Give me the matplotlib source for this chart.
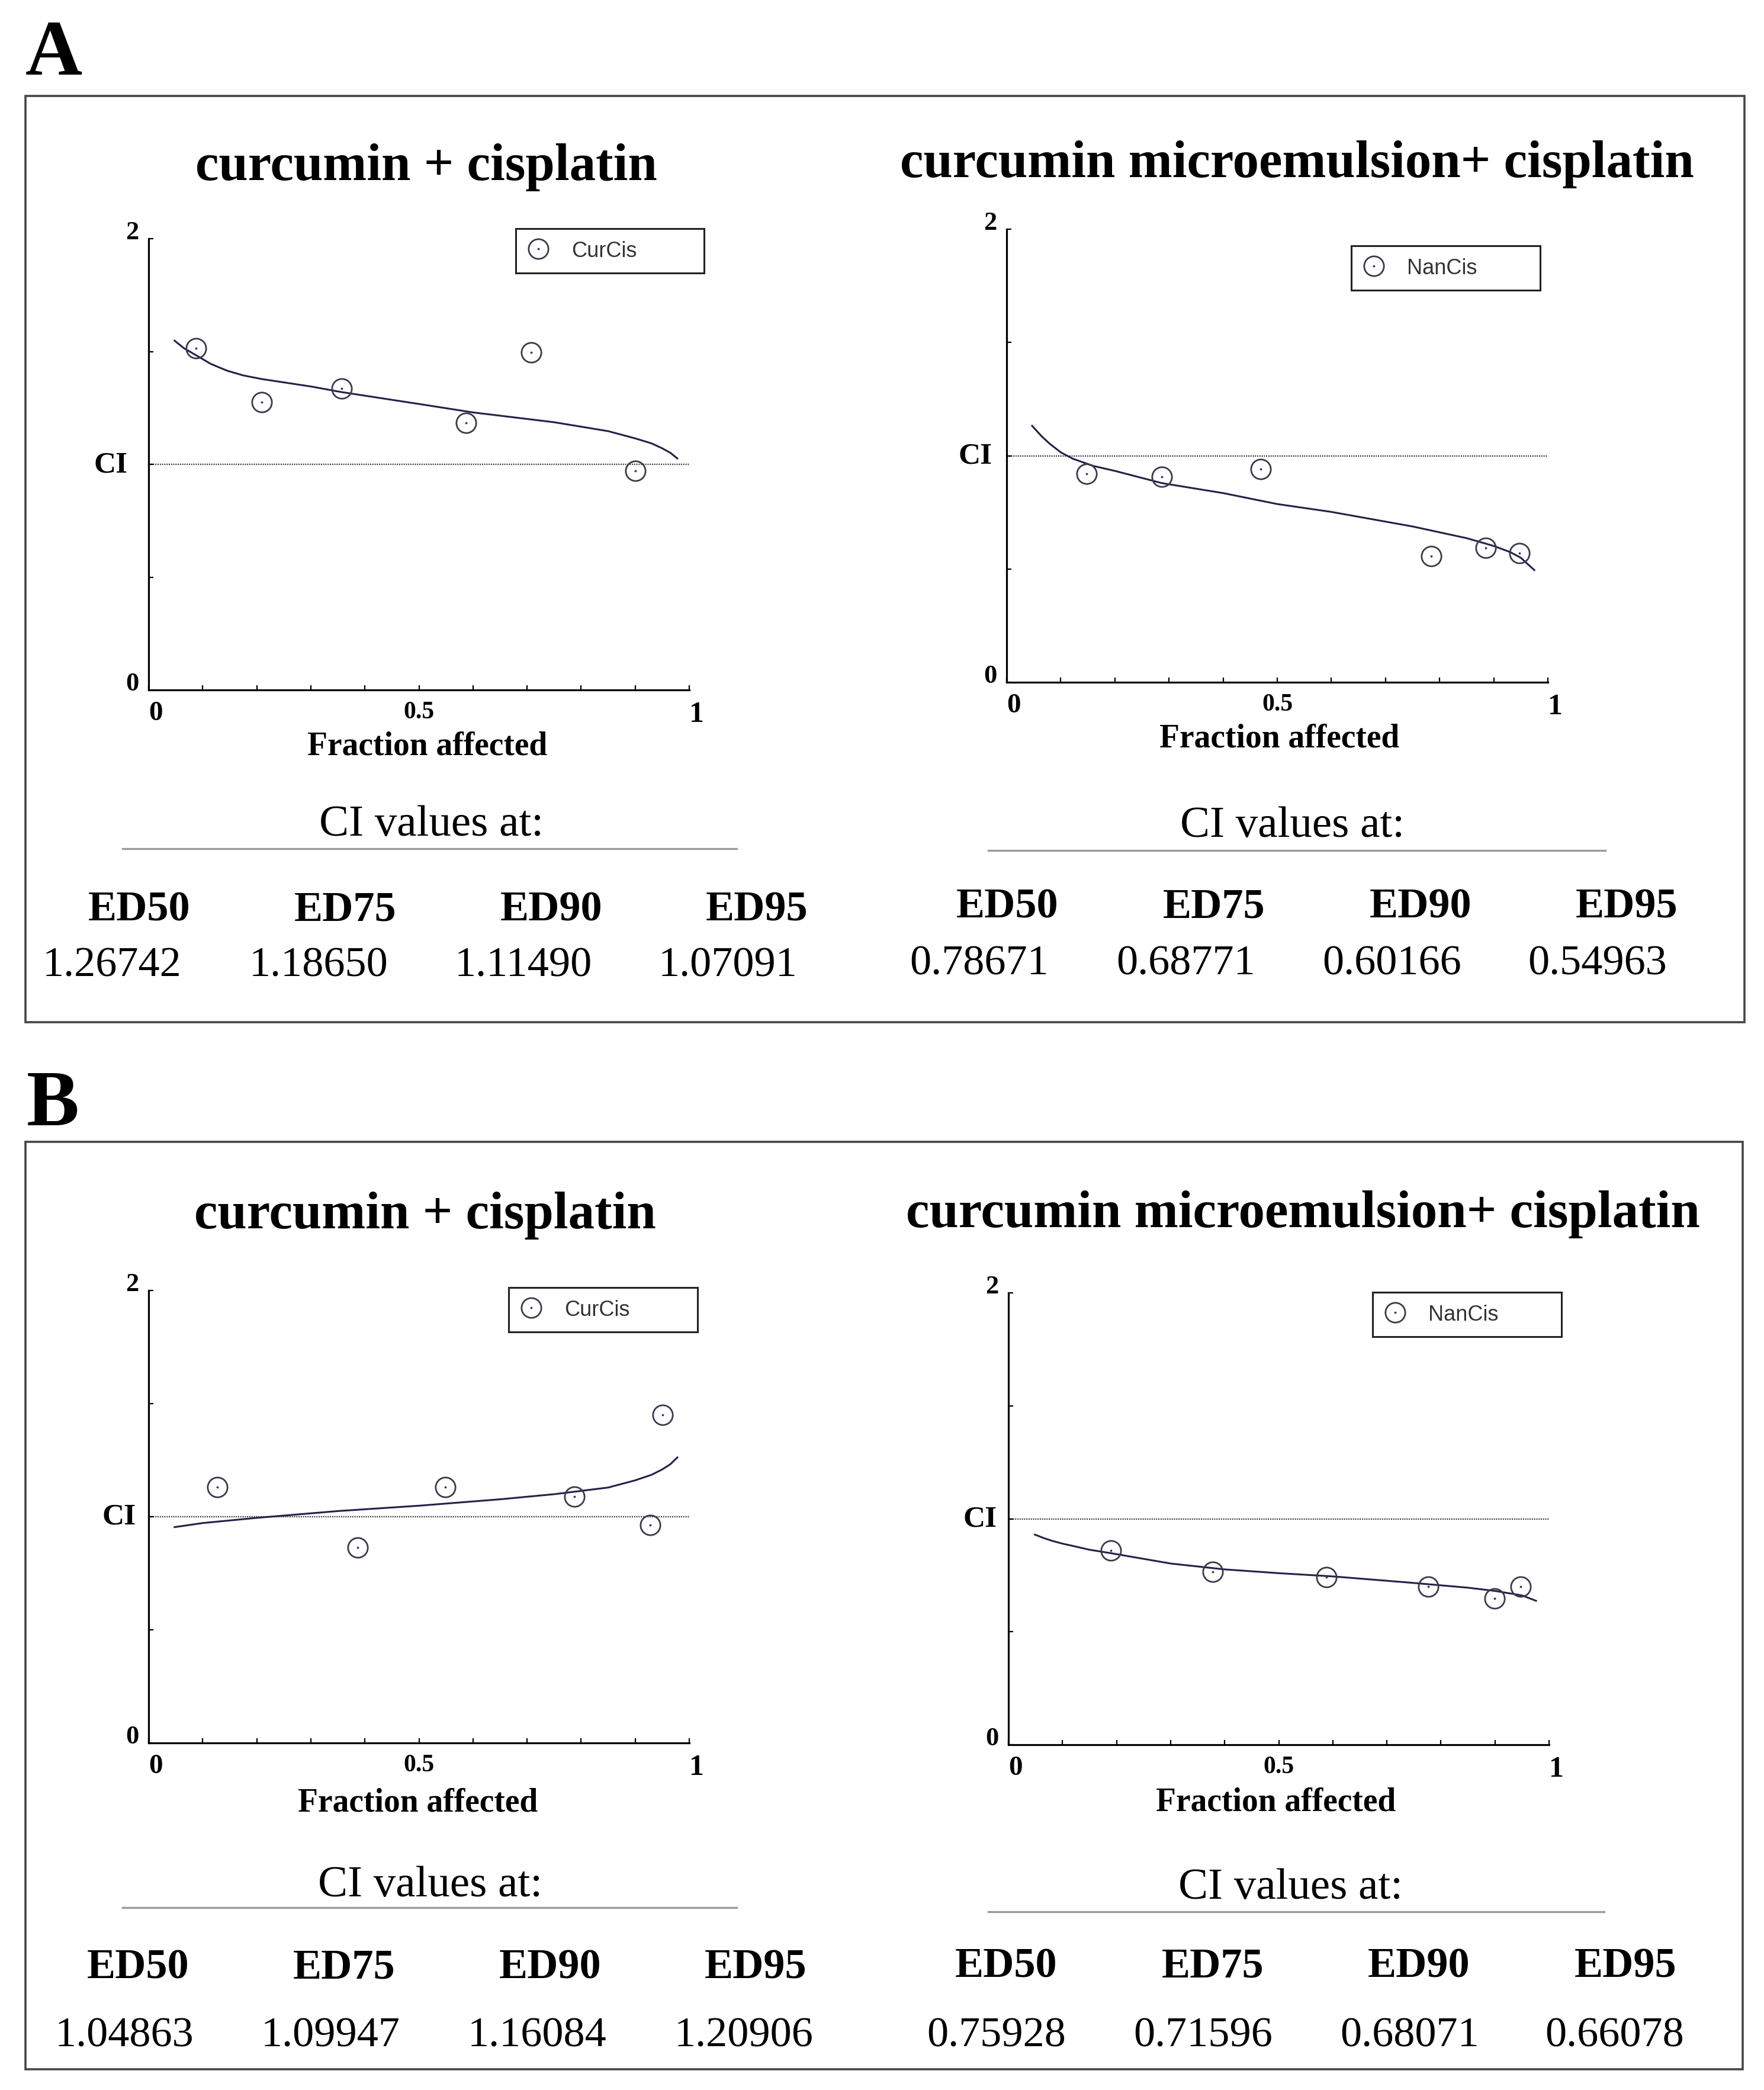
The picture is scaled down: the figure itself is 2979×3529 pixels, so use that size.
import matplotlib
matplotlib.use('Agg')
import matplotlib.pyplot as plt
from matplotlib.patches import Rectangle
from matplotlib.lines import Line2D

plt.rcParams['font.family'] = ['Liberation Serif', 'DejaVu Serif']

W, H = 2979, 3530

# ---- data ----
# A, curcumin + cisplatin
a_cur_fa = [0.088, 0.209, 0.357, 0.587, 0.708, 0.900]
a_cur_ci = [1.515, 1.276, 1.337, 1.185, 1.496, 0.972]
a_cur_line_fa = [0.048, 0.065, 0.088, 0.115, 0.145, 0.175, 0.209, 0.30, 0.357, 0.50, 0.60,
                 0.75, 0.85, 0.90, 0.93, 0.95, 0.965, 0.978]
a_cur_line_ci = [1.548, 1.515, 1.483, 1.445, 1.415, 1.394, 1.378, 1.345, 1.320, 1.26742, 1.230,
                 1.18650, 1.147, 1.11490, 1.093, 1.07091, 1.051, 1.026]
a_cur_ed = [1.26742, 1.18650, 1.11490, 1.07091]

# A, curcumin microemulsion + cisplatin
a_nan_fa = [0.148, 0.287, 0.469, 0.785, 0.885, 0.947]
a_nan_ci = [0.920, 0.907, 0.941, 0.557, 0.594, 0.570]
a_nan_line_fa = [0.047, 0.065, 0.08, 0.10, 0.122, 0.16, 0.20, 0.287, 0.40, 0.50, 0.60,
                 0.75, 0.85, 0.90, 0.93, 0.95, 0.975]
a_nan_line_ci = [1.132, 1.085, 1.052, 1.015, 0.987, 0.955, 0.933, 0.879, 0.835, 0.78671, 0.752,
                 0.68771, 0.636, 0.60166, 0.575, 0.54963, 0.495]
a_nan_ed = [0.78671, 0.68771, 0.60166, 0.54963]

# B, curcumin + cisplatin
b_cur_fa = [0.127, 0.387, 0.549, 0.788, 0.928, 0.951]
b_cur_ci = [1.132, 0.863, 1.132, 1.089, 0.963, 1.449]
b_cur_line_fa = [0.048, 0.10, 0.20, 0.35, 0.50, 0.65, 0.75, 0.85, 0.90, 0.93, 0.95, 0.965, 0.978]
b_cur_line_ci = [0.954, 0.972, 0.995, 1.025, 1.04863, 1.077, 1.09947, 1.129, 1.16084, 1.185,
                 1.20906, 1.232, 1.262]
b_cur_ed = [1.04863, 1.09947, 1.16084, 1.20906]

# B, curcumin microemulsion + cisplatin
b_nan_fa = [0.189, 0.378, 0.588, 0.777, 0.899, 0.947]
b_nan_ci = [0.859, 0.765, 0.743, 0.700, 0.648, 0.700]
b_nan_line_fa = [0.049, 0.065, 0.08, 0.10, 0.119, 0.15, 0.189, 0.30, 0.40, 0.50, 0.60,
                 0.75, 0.85, 0.90, 0.95, 0.976]
b_nan_line_ci = [0.930, 0.915, 0.903, 0.890, 0.880, 0.863, 0.848, 0.802, 0.776, 0.75928, 0.745,
                 0.71596, 0.695, 0.68071, 0.66078, 0.637]
b_nan_ed = [0.75928, 0.71596, 0.68071, 0.66078]

ed_names = ['ED50', 'ED75', 'ED90', 'ED95']
title_cur = 'curcumin + cisplatin'
title_nan = 'curcumin microemulsion+ cisplatin'


def rect(x0, y0, x1, y1):
    return [x0 / W, 1 - y1 / H, (x1 - x0) / W, (y1 - y0) / H]


def panel(fig, box, fa, ci, lfa, lci, label, leg, ci_x, xl):
    ax = fig.add_axes(rect(*box))
    ax.axhline(1, color='#333333', lw=1.7, ls=(0, (0.8, 0.8)), zorder=1)
    ax.plot(lfa, lci, color='#22224a', lw=2.2, zorder=2)
    h1, = ax.plot(fa, ci, 'o', ms=24, mfc='none', mec='#3a3a4e', mew=2.0, zorder=3)
    h2, = ax.plot(fa, ci, '.', ms=3.5, color='#3a3a4e', zorder=3)
    ax.set_xlim(0, 1)
    ax.set_ylim(0, 2)
    for s in ['top', 'right']:
        ax.spines[s].set_visible(False)
    for s in ['left', 'bottom']:
        ax.spines[s].set_linewidth(2.3)
    ax.set_xticks([0, 0.5, 1], ['0', '0.5', '1'])
    ax.set_xticks([0.1, 0.2, 0.3, 0.4, 0.6, 0.7, 0.8, 0.9], minor=True)
    ax.set_yticks([0, 2], ['0', '2'])
    ax.set_yticks([0.5, 1, 1.5], minor=True)
    ax.tick_params(which='both', direction='in', length=6, width=1.6)
    ax.tick_params(axis='x', pad=13)
    ax.tick_params(axis='y', pad=12)
    for t, s, ha in zip(ax.get_xticklabels(), [34, 30, 36], ['left', 'center', 'left']):
        t.set_fontsize(s)
        t.set_ha(ha)
        t.set_fontweight('bold')
    for t in ax.get_yticklabels():
        t.set_fontsize(32)
        t.set_va('baseline')
        t.set_fontweight('bold')
    ax.set_ylabel('CI', rotation=0, fontsize=37, fontweight='bold', ha='right', va='center')
    ax.yaxis.set_label_coords(ci_x, 0.5)
    ax.set_xlabel('Fraction affected', fontsize=40, fontweight='bold', va='top')
    ax.xaxis.set_label_coords(*xl)
    x0, y0, x1, y1 = leg
    lg = ax.legend([(h1, h2)], [label], loc='upper left', mode='expand',
                   bbox_to_anchor=(x0 / W, 1 - y1 / H, (x1 - x0) / W, (y1 - y0) / H),
                   bbox_transform=fig.transFigure, borderaxespad=0, fancybox=False,
                   framealpha=1, edgecolor='#222222', borderpad=0.55, handlelength=1.0,
                   handletextpad=1.05, prop={'family': 'Liberation Sans', 'size': 26})
    lg.get_frame().set_linewidth(2.2)
    for t in lg.get_texts():
        t.set_color('#333333')
    return ax


def table(fig, cx, y_ci, line, y_ed, ed_x, y_val, val_x, vals):
    fig.text(cx / W, 1 - y_ci / H, 'CI values at:', ha='center', va='baseline', fontsize=54)
    lx0, lx1, ly = line
    fig.add_artist(Line2D([lx0 / W, lx1 / W], [1 - ly / H, 1 - ly / H], color='#9a9a9a', lw=2.4))
    for n, x in zip(ed_names, ed_x):
        fig.text(x / W, 1 - y_ed / H, n, ha='center', va='baseline', fontsize=52, fontweight='bold')
    for v, x in zip(vals, val_x):
        fig.text(x / W, 1 - y_val / H, f'{v:.5f}', ha='center', va='baseline', fontsize=52)


fig = plt.figure(figsize=(W / 100, H / 100), dpi=100)

for (x0, y0, x1, y1) in [(43, 163, 2946, 1727), (43, 1929, 2943, 3495)]:
    fig.add_artist(Rectangle((x0 / W, 1 - y1 / H), (x1 - x0) / W, (y1 - y0) / H,
                             transform=fig.transFigure, fill=False, ec='#454545', lw=2.6))

fig.text(43 / W, 1 - 126 / H, 'A', ha='left', va='baseline', fontsize=96, fontweight='bold')
fig.text(45 / W, 1 - 1900 / H, 'B', ha='left', va='baseline', fontsize=96, fontweight='bold')

# titles
for x, y, t in [(720, 304, title_cur), (2190, 299, title_nan),
                (718, 2074, title_cur), (2200, 2072, title_nan)]:
    fig.text(x / W, 1 - y / H, t, ha='center', va='baseline', fontsize=64, fontweight='bold')

panel(fig, (251, 404, 1164, 1166), a_cur_fa, a_cur_ci, a_cur_line_fa, a_cur_line_ci,
      'CurCis', (871, 387, 1189, 463), -0.039, (0.516, -0.09))
panel(fig, (1700, 388, 2614, 1153), a_nan_fa, a_nan_ci, a_nan_line_fa, a_nan_line_ci,
      'NanCis', (2282, 416, 2601, 495), -0.027, (0.504, -0.09))
panel(fig, (251, 2180, 1164, 2944), b_cur_fa, b_cur_ci, b_cur_line_fa, b_cur_line_ci,
      'CurCis', (859, 2175, 1178, 2253), -0.023, (0.498, -0.097))
panel(fig, (1703, 2184, 2616, 2947), b_nan_fa, b_nan_ci, b_nan_line_fa, b_nan_line_ci,
      'NanCis', (2318, 2183, 2637, 2260), -0.021, (0.495, -0.092))

table(fig, 729, 1411, (207, 1244, 1434), 1555, [235, 583, 931, 1278], 1649,
      [189, 538, 884, 1229], a_cur_ed)
table(fig, 2183, 1413, (1669, 2711, 1437), 1550, [1701, 2050, 2399, 2747], 1645,
      [1654, 2003, 2351, 2698], a_nan_ed)
table(fig, 727, 3202, (207, 1244, 3222), 3341, [233, 581, 929, 1276], 3456,
      [210, 558, 907, 1256], b_cur_ed)
table(fig, 2180, 3206, (1669, 2709, 3229), 3339, [1699, 2048, 2396, 2745], 3456,
      [1683, 2032, 2381, 2727], b_nan_ed)

fig.savefig('out.png', dpi=100, facecolor='white')
